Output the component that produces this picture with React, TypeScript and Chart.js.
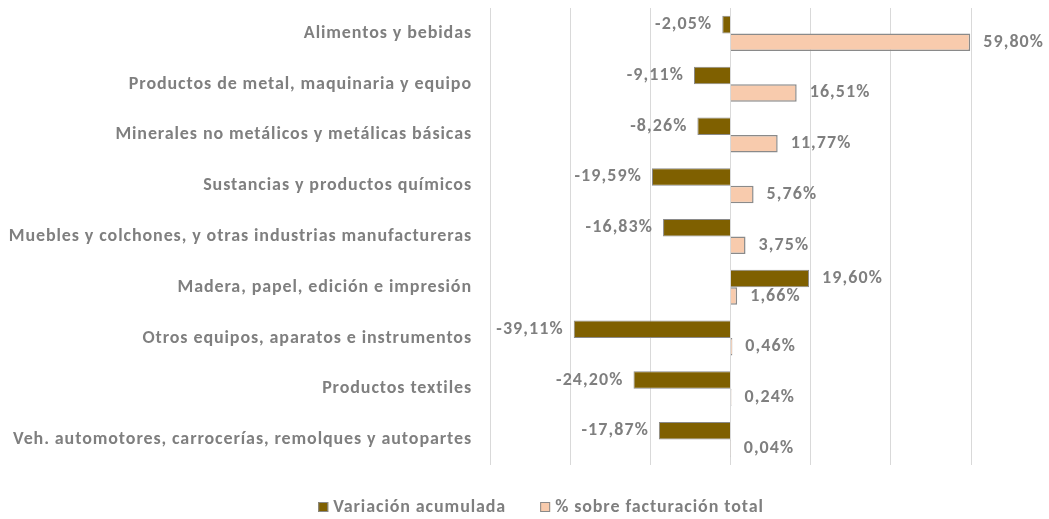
import React, { useEffect, useRef } from "react";
import { Chart, registerables } from "chart.js";

Chart.register(...registerables);

const categories = [
  "Alimentos y bebidas",
  "Productos de metal, maquinaria y equipo",
  "Minerales no metálicos y metálicas básicas",
  "Sustancias y productos químicos",
  "Muebles y colchones, y otras industrias manufactureras",
  "Madera, papel, edición e impresión",
  "Otros equipos, aparatos e instrumentos",
  "Productos textiles",
  "Veh. automotores, carrocerías, remolques y autopartes",
];
const variacionAcumulada = [-2.05, -9.11, -8.26, -19.59, -16.83, 19.6, -39.11, -24.2, -17.87];
const porcentajeFacturacion = [59.8, 16.51, 11.77, 5.76, 3.75, 1.66, 0.46, 0.24, 0.04];
const seriesNames = ["Variación acumulada", "% sobre facturación total"];

const FONT = "Carlito, Lato, 'DejaVu Sans', sans-serif";
const TEXT = "#7f7f7f";
const DARK = "#7f6000";
const LIGHT = "#f8cbad";
const SPACING = "0.9px";

const fmt = (v: number) => v.toFixed(2).replace(".", ",") + "%";

const spacingPlugin = {
  id: "letterSpacing",
  beforeInit(chart: any) {
    chart.ctx.letterSpacing = SPACING;
  },
  beforeLayout(chart: any) {
    chart.ctx.letterSpacing = SPACING;
  },
  beforeDraw(chart: any) {
    chart.ctx.letterSpacing = SPACING;
  },
};

const labelPlugin = {
  id: "valueLabels",
  afterDatasetsDraw(chart: any) {
    const ctx = chart.ctx;
    ctx.save();
    ctx.letterSpacing = "1.1px";
    ctx.font = `bold 18px ${FONT}`;
    ctx.fillStyle = TEXT;
    ctx.textBaseline = "middle";
    chart.data.datasets.forEach((ds: any, di: number) => {
      const meta = chart.getDatasetMeta(di);
      meta.data.forEach((el: any, i: number) => {
        const v = ds.data[i] as number;
        if (v < 0) {
          ctx.textAlign = "right";
          ctx.fillText(fmt(v), el.x - 10, el.y);
        } else {
          ctx.textAlign = "left";
          ctx.fillText(fmt(v), el.x + 13, el.y);
        }
      });
    });
    ctx.restore();
  },
};

const legendPlugin = {
  id: "customLegend",
  afterDraw(chart: any) {
    const ctx = chart.ctx;
    ctx.save();
    ctx.letterSpacing = SPACING;
    ctx.font = `bold 18px ${FONT}`;
    const box = 10;
    const boxGap = 5;
    const itemGap = 34;
    const colors = [DARK, LIGHT];
    const widths = seriesNames.map((n) => box + boxGap + ctx.measureText(n).width);
    const total = widths.reduce((a, b) => a + b, 0) + itemGap;
    let x = 541 - total / 2;
    const y = 507;
    seriesNames.forEach((n, i) => {
      ctx.fillStyle = colors[i];
      ctx.fillRect(x, y - box / 2, box, box);
      ctx.strokeStyle = "#8a8a8a";
      ctx.lineWidth = 1;
      ctx.strokeRect(x + 0.5, y - box / 2 + 0.5, box - 1, box - 1);
      ctx.fillStyle = TEXT;
      ctx.textAlign = "left";
      ctx.textBaseline = "middle";
      ctx.fillText(n, x + box + boxGap, y);
      x += widths[i] + itemGap;
    });
    ctx.restore();
  },
};

export default function App() {
  const ref = useRef<HTMLCanvasElement>(null);
  useEffect(() => {
    document.body.style.margin = "0";
    const chart = new Chart(ref.current!, {
      type: "bar",
      data: {
        labels: categories,
        datasets: [
          {
            label: seriesNames[0],
            data: variacionAcumulada,
            backgroundColor: DARK,
            borderColor: "#8a8a8a",
            borderWidth: 1,
            categoryPercentage: 0.69,
            barPercentage: 1,
          },
          {
            label: seriesNames[1],
            data: porcentajeFacturacion,
            backgroundColor: LIGHT,
            borderColor: "#8a8a8a",
            borderWidth: 1.5,
            categoryPercentage: 0.69,
            barPercentage: 1,
          },
        ],
      },
      options: {
        indexAxis: "y",
        responsive: false,
        animation: false,
        layout: { padding: { top: 8, bottom: 54, right: 78, left: 0 } },
        plugins: { legend: { display: false }, tooltip: { enabled: false } },
        scales: {
          x: {
            min: -60,
            max: 60,
            ticks: { display: false, stepSize: 20 },
            grid: { color: "#d9d9d9", drawTicks: false, lineWidth: 1 },
            border: { display: false },
            afterFit: (s: any) => {
              s.height = 0;
              s.paddingLeft = 0;
              s.paddingRight = 0;
            },
          },
          y: {
            grid: { display: false, drawTicks: false },
            border: { display: false },
            ticks: {
              color: TEXT,
              font: { family: FONT, size: 18, weight: "bold" },
              padding: 18,
            },
            afterFit: (s: any) => {
              s.width = 490;
              s.paddingTop = 0;
              s.paddingBottom = 0;
            },
          },
        },
      },
      plugins: [spacingPlugin, labelPlugin, legendPlugin],
    });
    return () => chart.destroy();
  }, []);
  return (
    <div style={{ width: 1049, height: 519 }}>
      <canvas ref={ref} width={1049} height={519} style={{ display: "block" }} />
    </div>
  );
}
